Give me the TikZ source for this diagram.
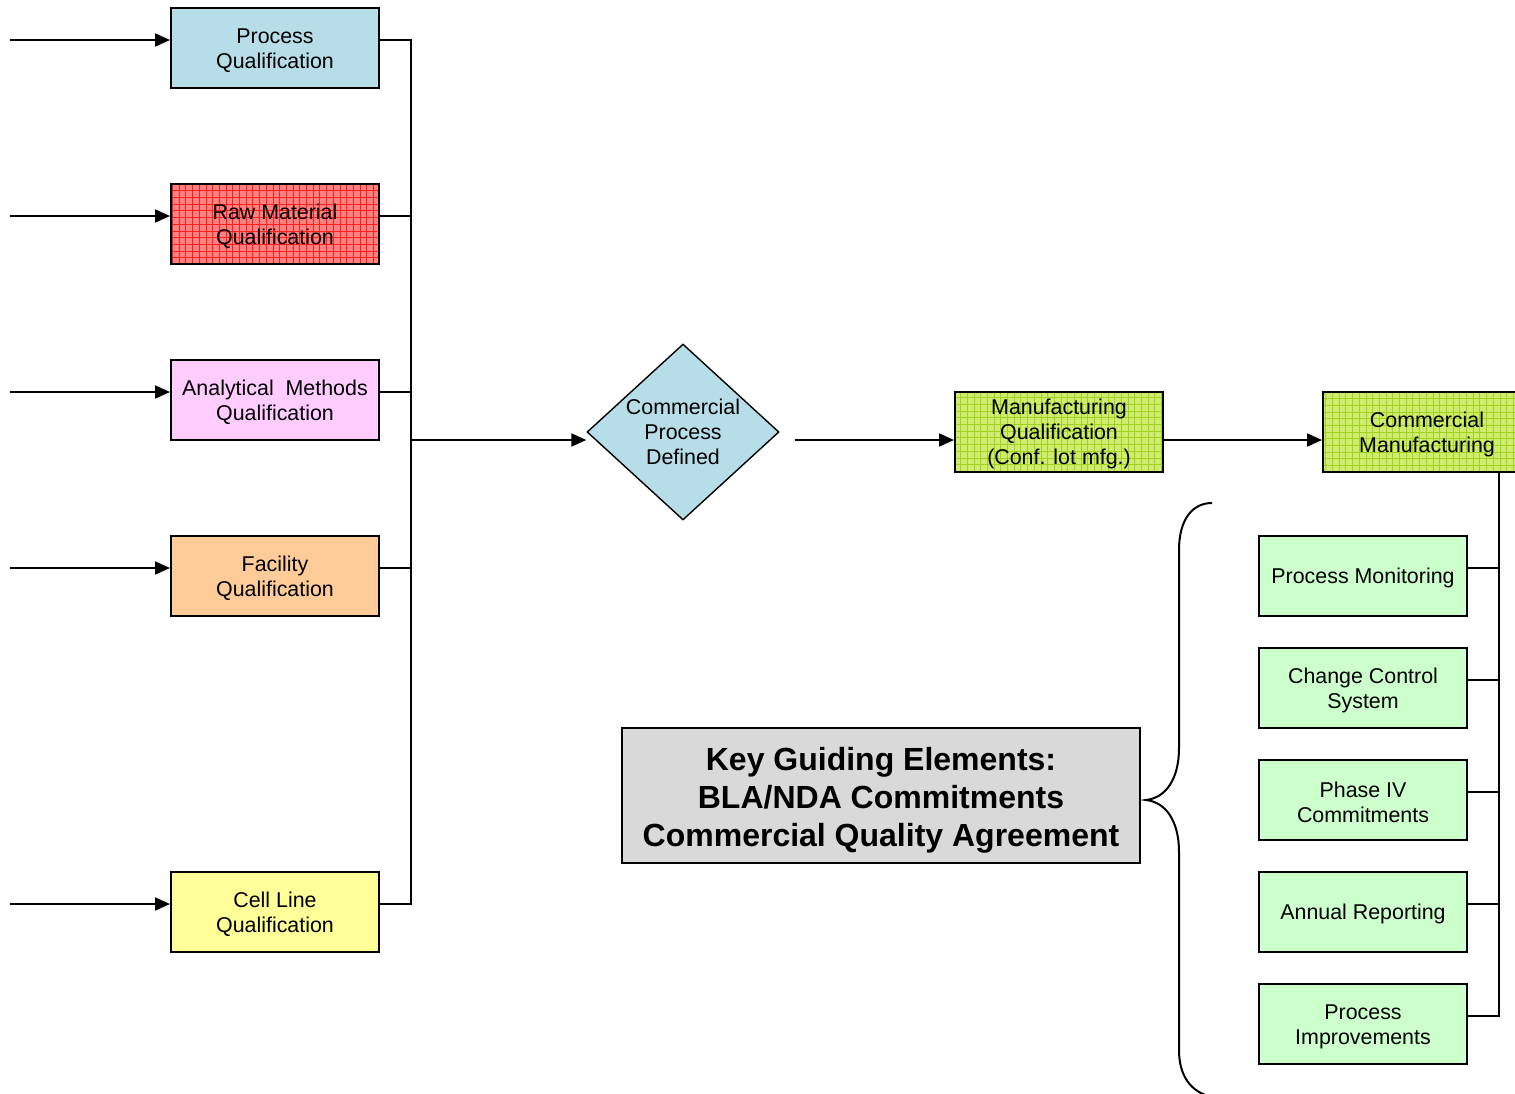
\documentclass[tikz,border=0pt]{standalone}
\usepackage{fontspec}
\setmainfont{Liberation Sans}
\usetikzlibrary{arrows.meta,shapes.geometric}

\definecolor{cBlue}{RGB}{183,222,232}
\definecolor{cRed}{RGB}{255,130,130}
\definecolor{cRedGrid}{RGB}{255,30,30}
\definecolor{cPink}{RGB}{255,204,255}
\definecolor{cOrange}{RGB}{255,204,153}
\definecolor{cYellow}{RGB}{255,255,153}
\definecolor{cMint}{RGB}{204,255,204}
\definecolor{cLime}{RGB}{208,236,112}
\definecolor{cLimeGrid}{RGB}{160,210,30}
\definecolor{cGray}{RGB}{217,217,217}

% extra room above the first text line of a box
\newcommand{\boxstrut}{\rule{0pt}{9.8pt}}

\tikzset{
  box/.style={draw, line width=1pt, rectangle, minimum width=104pt, minimum height=40pt,
    inner sep=0pt, align=center, font=\fontsize{10.7pt}{12.5pt}\selectfont},
  gridfill/.style={path picture={
    \draw[#1, line width=0.35pt, step=3.35pt]
      (path picture bounding box.south west) grid (path picture bounding box.north east);}},
  conn/.style={line width=1pt},
  arr/.style={line width=1pt, -{Triangle[length=7.5pt,width=6.5pt]}},
}

\begin{document}
\begin{tikzpicture}[x=0.5pt, y=-0.5pt]
\useasboundingbox (0,0) rectangle (1515,1093);

% qualification inputs
\node[box, fill=cBlue]   (pq) at (275,48)  {\boxstrut Process\\Qualification};
\node[box, fill=cRed, gridfill=cRedGrid] (rm) at (275,224) {\boxstrut Raw Material\\Qualification};
\node[box, fill=cPink]   (am) at (275,400) {\boxstrut Analytical\ \ Methods\\Qualification};
\node[box, fill=cOrange] (fq) at (275,576) {\boxstrut Facility\\Qualification};
\node[box, fill=cYellow] (cl) at (275,912) {\boxstrut Cell Line\\Qualification};

% incoming arrows
\foreach \n/\yy in {pq/40, rm/216, am/392, fq/568, cl/904}{
  \coordinate (in-\n) at (10,\yy);
  \draw[arr] (in-\n) -- (in-\n -| \n.west);
}

% collecting bus
\coordinate (bus) at (411,0);
\coordinate (row) at (0,440);
\draw[conn] (in-pq -| pq.east) -- (in-pq -| bus) -- (in-cl -| bus) -- (in-cl -| cl.east);
\foreach \n in {rm, am, fq}{
  \draw[conn] (in-\n -| \n.east) -- (in-\n -| bus);
}

% decision and manufacturing chain
\node[diamond, draw, line width=0.7pt, fill=cBlue, minimum width=96pt, minimum height=88pt,
      inner sep=0pt] (cpd) at (683,432) {};
\node[align=center, font=\fontsize{10.7pt}{12.5pt}\selectfont, inner sep=0pt] (cpdt) at (cpd) {Commercial\\Process\\Defined};

\node[box, fill=cLime, gridfill=cLimeGrid] (mq) at (1059,432) {\boxstrut Manufacturing\\Qualification\\(Conf. lot mfg.)};
\node[box, fill=cLime, gridfill=cLimeGrid] (cm) at (1427,432) {\boxstrut Commercial\\Manufacturing};

\draw[arr] (bus |- row) -- (cpd.west |- row);
\draw[arr] ([xshift=7.5pt]cpd.east |- row) -- (mq.west |- row);
\draw[arr] (mq.east |- row) -- (cm.west |- row);

% ongoing commercial activities
\node[box, fill=cMint] (pm) at (1363,576)  {\boxstrut Process Monitoring};
\node[box, fill=cMint] (cc) at (1363,688)  {\boxstrut Change Control\\System};
\node[box, fill=cMint] (p4) at (1363,800)  {\boxstrut Phase IV\\Commitments};
\node[box, fill=cMint] (ar) at (1363,912)  {\boxstrut Annual Reporting};
\node[box, fill=cMint] (pi) at (1363,1024) {\boxstrut Process\\Improvements};

\coordinate (rbus) at (1499,0);
\coordinate (pilink) at (1467,1016);
\draw[conn] (cm.south -| rbus) -- (pilink -| rbus) -- (pilink);
\foreach \n/\yy in {pm/568, cc/680, p4/792, ar/904}{
  \coordinate (link-\n) at (1467,\yy);
  \draw[conn] (link-\n) -- (link-\n -| rbus);
}

% key elements and brace
\node[draw, line width=1pt, fill=cGray, minimum width=259pt, minimum height=67.5pt, inner sep=0pt]
  (key) at (881,795.5) {};
\node[align=center, inner sep=0pt, font=\fontsize{16pt}{19pt}\selectfont\bfseries]
  (keytext) at ([yshift=-2.5pt]key.center)
  {Key Guiding Elements:\\BLA/NDA Commitments\\Commercial Quality Agreement};

\draw[line width=1pt]
  (1212,503) .. controls (1192,503) and (1179,520) .. (1179,550)
  -- (1179,748) .. controls (1179,780) and (1165,798) .. (1146,800)
  .. controls (1165,802) and (1179,820) .. (1179,852)
  -- (1179,1050) .. controls (1179,1075) and (1190,1092) .. (1212,1097);
\end{tikzpicture}
\end{document}
